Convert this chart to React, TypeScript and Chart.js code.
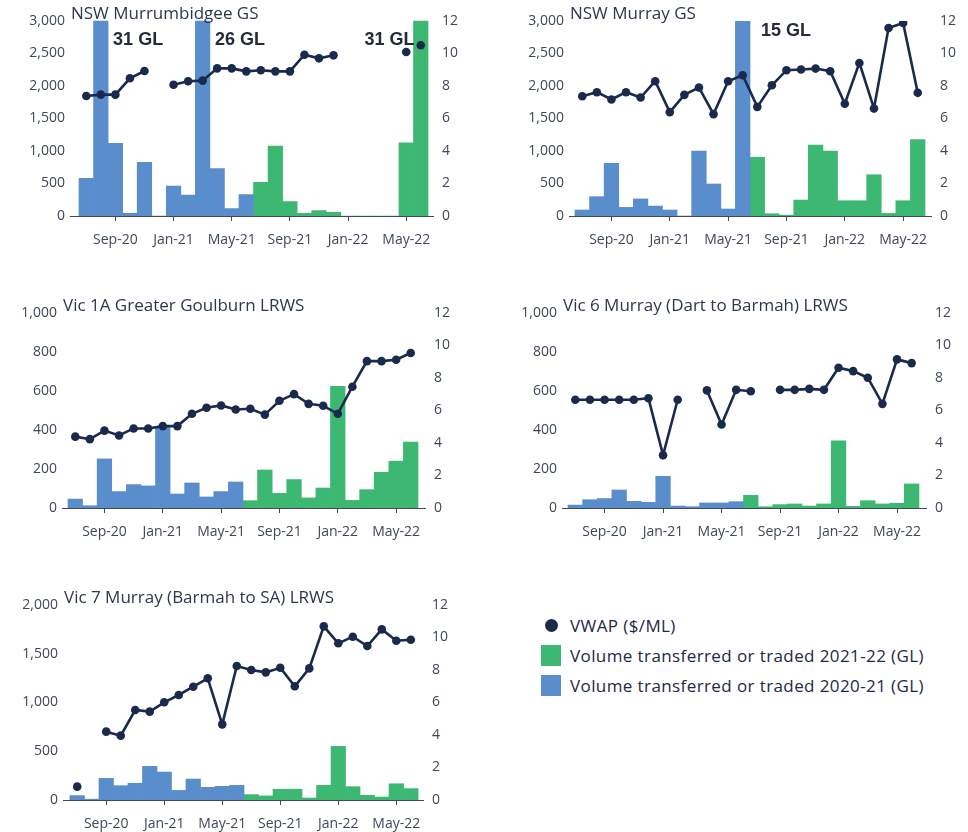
import React, { useEffect, useRef } from "react";
import { Chart, registerables } from "chart.js";

Chart.register(...registerables);

// ---------- data ----------
const months = [
  "Jul-20", "Aug-20", "Sep-20", "Oct-20", "Nov-20", "Dec-20",
  "Jan-21", "Feb-21", "Mar-21", "Apr-21", "May-21", "Jun-21",
  "Jul-21", "Aug-21", "Sep-21", "Oct-21", "Nov-21", "Dec-21",
  "Jan-22", "Feb-22", "Mar-22", "Apr-22", "May-22", "Jun-22",
];
const tickMonths = ["Sep-20", "Jan-21", "May-21", "Sep-21", "Jan-22", "May-22"];

// NSW Murrumbidgee GS
const murrumbidgeeVol2021 = [2.32, 31, 4.47, 0.16, 3.3, 0, 1.84, 1.29, 26, 2.91, 0.45, 1.31];
const murrumbidgeeVol2122 = [2.07, 4.3, 0.88, 0.16, 0.33, 0.23, 0, 0, 0, 0, 4.5, 31];
const murrumbidgeeVwap = [1843, 1864, 1864, 2115, 2227, null, 2017, 2069, 2079, 2268, 2268, 2222, 2238, 2222, 2222, 2478, 2422, 2468, null, null, null, null, 2519, 2622];

// NSW Murray GS
const murrayVol2021 = [0.37, 1.19, 3.24, 0.53, 1.05, 0.61, 0.37, 0, 4.0, 1.97, 0.43, 15];
const murrayVol2122 = [3.61, 0.14, 0.05, 0.98, 4.36, 4.0, 0.94, 0.94, 2.54, 0.16, 0.94, 4.71];
const murrayVwap = [1843, 1905, 1792, 1905, 1823, 2074, 1598, 1864, 1976, 1567, 2074, 2166, 1679, 2012, 2243, 2253, 2268, 2227, 1726, 2355, 1654, 2893, 2970, 1895];

// Vic 1A Greater Goulburn LRWS
const vic1aVol2021 = [0.55, 0.14, 3.02, 1.01, 1.44, 1.36, 5.01, 0.86, 1.54, 0.68, 1.01, 1.6];
const vic1aVol2122 = [0.45, 2.34, 0.9, 1.75, 0.62, 1.23, 7.48, 0.47, 1.13, 2.2, 2.88, 4.05];
const vic1aVwap = [366, 353, 397, 372, 408, 408, 420, 420, 483, 514, 526, 505, 509, 479, 550, 584, 534, 524, 483, 622, 753, 753, 760, 795];

// Vic 6 Murray (Dart to Barmah) LRWS
const vic6Vol2021 = [0.18, 0.51, 0.58, 1.11, 0.41, 0.35, 1.95, 0.12, 0.08, 0.31, 0.31, 0.39];
const vic6Vol2122 = [0.78, 0.08, 0.21, 0.25, 0.12, 0.25, 4.13, 0.1, 0.45, 0.25, 0.29, 1.48];
const vic6Vwap = [555, 555, 555, 555, 555, 563, 271, 555, null, 603, 428, 606, 599, null, 606, 606, 611, 606, 719, 702, 668, 534, 762, 743];

// Vic 7 Murray (Barmah to SA) LRWS
const vic7Vol2021 = [0.27, 0.05, 1.33, 0.88, 1.03, 2.07, 1.72, 0.59, 1.29, 0.78, 0.84, 0.9];
const vic7Vol2122 = [0.33, 0.25, 0.66, 0.66, 0.12, 0.9, 3.3, 0.82, 0.29, 0.18, 1.0, 0.7];
const vic7Vwap = [137, null, 701, 660, 923, 906, 1002, 1077, 1162, 1248, 776, 1374, 1333, 1309, 1357, 1166, 1350, 1781, 1607, 1675, 1579, 1750, 1634, 1644];

const volMax = 12;
const volStep = 2;

// ---------- styles ----------
const BLUE = "#5a8dcb";
const GREEN = "#3db873";
const NAVY = "#1a2a4d";
const AXIS = "#444a55";
const TICK = "#3e4859";
const TITLE = "#2c3850";
const FONT = '"Open Sans", "Noto Sans", sans-serif';

const LW = 60; // left axis width
const RW = 46; // right axis width
const PT = 26; // top padding
const XH = 40; // x axis height

type PanelCfg = {
  title: string;
  vol2021: number[];
  vol2122: number[];
  vwap: (number | null)[];
  priceMax: number;
  priceStep: number;
  area: { l: number; t: number; r: number; b: number };
  xMin: number;
  xMax: number;
  notes: { index: number; side: "right" | "left"; dx: number; dy: number }[];
  gapAfter: number[];
};

const panels: PanelCfg[] = [
  {
    title: "NSW Murrumbidgee GS",
    vol2021: murrumbidgeeVol2021,
    vol2122: murrumbidgeeVol2122,
    vwap: murrumbidgeeVwap,
    priceMax: 3000,
    priceStep: 500,
    area: { l: 70, t: 20.7, r: 433, b: 216 },
    xMin: -1.12,
    xMax: 23.84,
    notes: [
      { index: 1, side: "right", dx: 5, dy: 19 },
      { index: 8, side: "right", dx: 5, dy: 19 },
      { index: 23, side: "left", dx: 1, dy: 19 },
    ],
    gapAfter: [22],
  },
  {
    title: "NSW Murray GS",
    vol2021: murrayVol2021,
    vol2122: murrayVol2122,
    vwap: murrayVwap,
    priceMax: 3000,
    priceStep: 500,
    area: { l: 569, t: 21, r: 931, b: 216 },
    xMin: -0.91,
    xMax: 23.91,
    notes: [{ index: 11, side: "right", dx: 11, dy: 10 }],
    gapAfter: [],
  },
  {
    title: "Vic 1A Greater Goulburn LRWS",
    vol2021: vic1aVol2021,
    vol2122: vic1aVol2122,
    vwap: vic1aVwap,
    priceMax: 1000,
    priceStep: 200,
    area: { l: 62, t: 313, r: 425, b: 507.5 },
    xMin: -0.91,
    xMax: 23.98,
    notes: [],
    gapAfter: [],
  },
  {
    title: "Vic 6 Murray (Dart to Barmah) LRWS",
    vol2021: vic6Vol2021,
    vol2122: vic6Vol2122,
    vwap: vic6Vwap,
    priceMax: 1000,
    priceStep: 200,
    area: { l: 562, t: 313, r: 926, b: 507.5 },
    xMin: -0.91,
    xMax: 23.98,
    notes: [],
    gapAfter: [],
  },
  {
    title: "Vic 7 Murray (Barmah to SA) LRWS",
    vol2021: vic7Vol2021,
    vol2122: vic7Vol2122,
    vwap: vic7Vwap,
    priceMax: 2000,
    priceStep: 500,
    area: { l: 63, t: 605, r: 423, b: 800 },
    xMin: -0.98,
    xMax: 23.84,
    notes: [],
    gapAfter: [],
  },
];

const overlayPlugin = {
  id: "overlay",
  afterDatasetsDraw(chart: any, _args: any, opts: any) {
    const { ctx, chartArea } = chart;
    ctx.save();
    ctx.font = `17px ${FONT}`;
    ctx.fillStyle = TITLE;
    ctx.textBaseline = "middle";
    ctx.textAlign = "left";
    ctx.fillText(opts.title, chartArea.left + 1, chartArea.top - 7);

    const xs = chart.scales.x;
    const all: number[] = [...opts.vol2021, ...opts.vol2122];
    ctx.font = `bold 18px "Liberation Sans", Arial, sans-serif`;
    ctx.fillStyle = "#262b3a";
    for (const n of opts.notes) {
      const v = all[n.index];
      const text = `${Math.round(v)} GL`;
      const half = (xs.getPixelForValue(1) - xs.getPixelForValue(0)) / 2;
      const cx = xs.getPixelForValue(n.index);
      if (n.side === "right") {
        ctx.textAlign = "left";
        ctx.fillText(text, cx + half + n.dx, chartArea.top + n.dy);
      } else {
        ctx.textAlign = "right";
        ctx.fillText(text, cx - half + n.dx, chartArea.top + n.dy);
      }
    }
    ctx.restore();
  },
};

function Panel({ cfg }: { cfg: PanelCfg }) {
  const ref = useRef<HTMLCanvasElement | null>(null);
  const { l, t, r, b } = cfg.area;
  const left = l - LW;
  const top = Math.floor(t) - PT;
  const padTop = t - top;
  const width = r - l + LW + RW;
  const height = Math.ceil(b - top) + XH;

  useEffect(() => {
    if (!ref.current) return;
    const tickIdx = tickMonths.map((m) => months.indexOf(m));
    const chart = new Chart(ref.current, {
      type: "bar",
      data: {
        datasets: [
          {
            type: "line",
            label: "VWAP ($/ML)",
            data: cfg.vwap.map((v, i) => ({ x: i, y: v })),
            yAxisID: "yL",
            xAxisID: "x",
            borderColor: NAVY,
            backgroundColor: NAVY,
            borderWidth: 2.6,
            pointRadius: 4.3,
            pointHoverRadius: 4.3,
            pointBackgroundColor: NAVY,
            pointBorderWidth: 0,
            tension: 0,
            spanGaps: false,
            order: 0,
            segment: {
              borderColor: (c: any) =>
                cfg.gapAfter.includes(c.p0DataIndex) ? "rgba(0,0,0,0)" : undefined,
            },
          } as any,
          {
            type: "bar",
            label: "Volume transferred or traded 2020-21 (GL)",
            data: cfg.vol2021.map((v, i) => ({ x: i, y: v })),
            yAxisID: "yR",
            xAxisID: "x",
            backgroundColor: BLUE,
            borderWidth: 0,
            barPercentage: 1,
            categoryPercentage: 1,
            grouped: false,
            clip: 0,
            order: 1,
          } as any,
          {
            type: "bar",
            label: "Volume transferred or traded 2021-22 (GL)",
            data: cfg.vol2122.map((v, i) => ({ x: i + 12, y: v })),
            yAxisID: "yR",
            xAxisID: "x",
            backgroundColor: GREEN,
            borderWidth: 0,
            barPercentage: 1,
            categoryPercentage: 1,
            grouped: false,
            clip: 0,
            order: 1,
          } as any,
        ],
      },
      options: {
        responsive: false,
        animation: false,
        events: [],
        layout: { padding: { top: padTop, left: 0, right: 0, bottom: 0 } },
        plugins: {
          legend: { display: false },
          tooltip: { enabled: false },
          overlay: {
            title: cfg.title,
            notes: cfg.notes,
            vol2021: cfg.vol2021,
            vol2122: cfg.vol2122,
          },
        } as any,
        scales: {
          x: {
            type: "linear",
            position: "bottom",
            offset: false,
            min: cfg.xMin,
            max: cfg.xMax,
            afterBuildTicks: (s: any) => {
              s.ticks = tickIdx.map((v) => ({ value: v }));
            },
            afterFit: (s: any) => {
              s.height = XH;
            },
            ticks: {
              callback: (v: any) => months[Math.round(v)],
              font: { family: FONT, size: 14 },
              color: TICK,
              padding: 11,
              maxRotation: 0,
              autoSkip: false,
            },
            grid: {
              display: true,
              offset: false,
              drawOnChartArea: false,
              drawTicks: true,
              tickLength: 5,
              color: AXIS,
              lineWidth: 1,
            },
            border: { display: true, color: AXIS, width: 1 },
          } as any,
          yL: {
            type: "linear",
            position: "left",
            min: 0,
            max: cfg.priceMax,
            afterFit: (s: any) => {
              s.width = LW;
            },
            ticks: {
              stepSize: cfg.priceStep,
              callback: (v: any) => Number(v).toLocaleString("en-US"),
              font: { family: FONT, size: 14 },
              color: TICK,
              padding: 5,
            },
            grid: { display: false, drawTicks: false },
            border: { display: false },
          } as any,
          yR: {
            type: "linear",
            position: "right",
            min: 0,
            max: volMax,
            afterFit: (s: any) => {
              s.width = RW;
            },
            ticks: {
              stepSize: volStep,
              font: { family: FONT, size: 14 },
              color: TICK,
              padding: 9,
            },
            grid: { display: false, drawTicks: false },
            border: { display: false },
          } as any,
        },
      },
      plugins: [overlayPlugin as any],
    });
    return () => chart.destroy();
  }, [cfg]);

  return (
    <canvas
      ref={ref}
      width={width}
      height={height}
      style={{ position: "absolute", left, top, width, height }}
    />
  );
}

const legendItems = [
  { kind: "dot", color: NAVY, label: "VWAP ($/ML)" },
  { kind: "box", color: GREEN, label: "Volume transferred or traded 2021-22 (GL)" },
  { kind: "box", color: BLUE, label: "Volume transferred or traded 2020-21 (GL)" },
];

export default function App() {
  return (
    <div
      style={{
        position: "absolute",
        left: 0,
        top: 0,
        width: 968,
        height: 832,
        background: "#ffffff",
        overflow: "hidden",
      }}
    >
      {panels.map((p, i) => (
        <Panel key={i} cfg={p} />
      ))}
      <div style={{ position: "absolute", left: 538, top: 610 }}>
        {legendItems.map((it, i) => (
          <div
            key={i}
            style={{
              display: "flex",
              alignItems: "center",
              height: 30,
              fontFamily: FONT,
              fontSize: 17,
              letterSpacing: 0.4,
              color: "#1d2945",
              whiteSpace: "nowrap",
            }}
          >
            <div style={{ width: 26, display: "flex", justifyContent: "center" }}>
              {it.kind === "dot" ? (
                <div style={{ width: 13, height: 13, borderRadius: "50%", background: it.color }} />
              ) : (
                <div style={{ width: 20, height: 21, background: it.color }} />
              )}
            </div>
            <div style={{ marginLeft: 6 }}>{it.label}</div>
          </div>
        ))}
      </div>
    </div>
  );
}
